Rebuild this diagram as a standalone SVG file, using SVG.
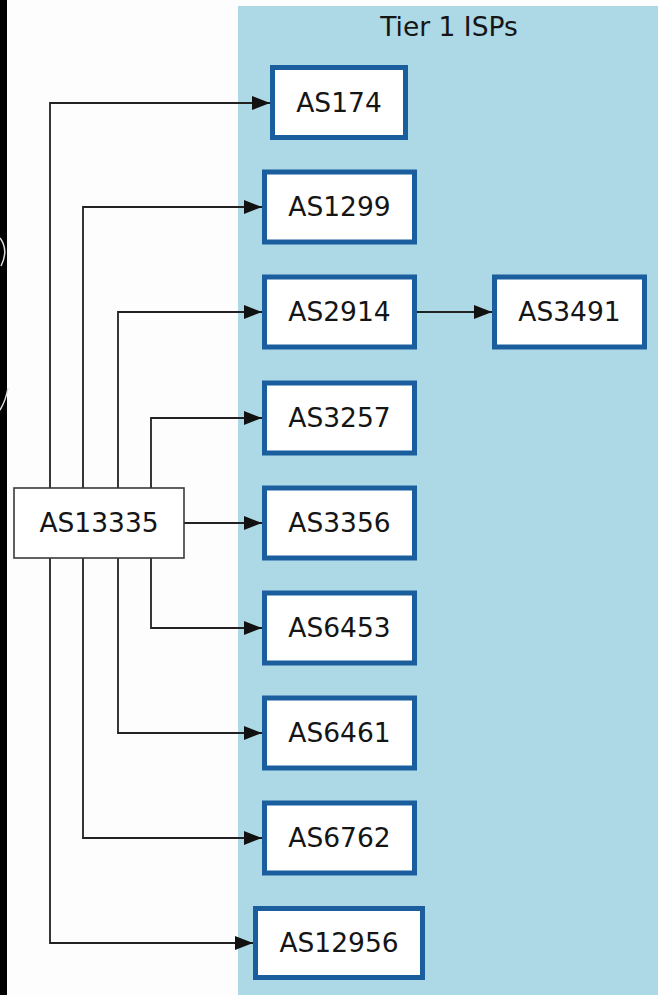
<svg xmlns="http://www.w3.org/2000/svg" width="658" height="995" viewBox="0 0 658 995">
  <style>
    .lbl { font-family: "DejaVu Sans", "Liberation Sans", sans-serif; font-size: 26.5px; fill: #151515; text-anchor: middle; }
    .tier { fill: #ffffff; stroke: #1a5e9e; stroke-width: 5; }
    .src { fill: #ffffff; stroke: #3a3a3a; stroke-width: 1.6; }
    .edge { fill: none; stroke: #222222; stroke-width: 1.8; }
  </style>
  <defs>
    <marker id="arrow" markerWidth="19" markerHeight="16" refX="18" refY="8" orient="auto" markerUnits="userSpaceOnUse">
      <path d="M0,1 L18,8 L0,15 Z" fill="#111111"/>
    </marker>
  </defs>
  <rect x="0" y="0" width="658" height="995" fill="#fdfdfd"/>
  <rect x="0" y="0" width="7" height="995" fill="#000000"/>
  <path d="M0,238 Q9,250 1,266" fill="none" stroke="#dddddd" stroke-width="1.5"/>
  <path d="M0,410 Q6,400 8,388" fill="none" stroke="#dddddd" stroke-width="1.5"/>

  <g id="cluster_tier1">
    <rect x="238" y="6" width="420" height="989" fill="#add8e6"/>
    <text class="lbl" x="449" y="36">Tier 1 ISPs</text>
  </g>

  <g id="edges">
    <polyline class="edge" points="50,488 50,103 270,103" marker-end="url(#arrow)"/>
    <polyline class="edge" points="83,488 83,207 262,207" marker-end="url(#arrow)"/>
    <polyline class="edge" points="118,488 118,312 262,312" marker-end="url(#arrow)"/>
    <polyline class="edge" points="151,488 151,418 262,418" marker-end="url(#arrow)"/>
    <polyline class="edge" points="184,523 262,523" marker-end="url(#arrow)"/>
    <polyline class="edge" points="151,558 151,628 262,628" marker-end="url(#arrow)"/>
    <polyline class="edge" points="118,558 118,733 262,733" marker-end="url(#arrow)"/>
    <polyline class="edge" points="83,558 83,838 262,838" marker-end="url(#arrow)"/>
    <polyline class="edge" points="50,558 50,943 253,943" marker-end="url(#arrow)"/>
    <polyline class="edge" points="417,312 492,312" marker-end="url(#arrow)"/>
  </g>

  <g id="AS13335">
    <rect class="src" x="14" y="488" width="170" height="70"/>
    <text class="lbl" x="99" y="532">AS13335</text>
  </g>
  <g id="AS174">
    <rect class="tier" x="272.5" y="67.5" width="133" height="70"/>
    <text class="lbl" x="339" y="112">AS174</text>
  </g>
  <g id="AS1299">
    <rect class="tier" x="264.5" y="172" width="150" height="70"/>
    <text class="lbl" x="339.5" y="216">AS1299</text>
  </g>
  <g id="AS2914">
    <rect class="tier" x="264.5" y="277" width="150" height="70"/>
    <text class="lbl" x="339.5" y="321">AS2914</text>
  </g>
  <g id="AS3491">
    <rect class="tier" x="494.5" y="277" width="150" height="70"/>
    <text class="lbl" x="569.5" y="321">AS3491</text>
  </g>
  <g id="AS3257">
    <rect class="tier" x="264.5" y="383" width="150" height="70"/>
    <text class="lbl" x="339.5" y="427">AS3257</text>
  </g>
  <g id="AS3356">
    <rect class="tier" x="264.5" y="488" width="150" height="70"/>
    <text class="lbl" x="339.5" y="532">AS3356</text>
  </g>
  <g id="AS6453">
    <rect class="tier" x="264.5" y="593" width="150" height="70"/>
    <text class="lbl" x="339.5" y="637">AS6453</text>
  </g>
  <g id="AS6461">
    <rect class="tier" x="264.5" y="698" width="150" height="70"/>
    <text class="lbl" x="339.5" y="742">AS6461</text>
  </g>
  <g id="AS6762">
    <rect class="tier" x="264.5" y="803" width="150" height="70"/>
    <text class="lbl" x="339.5" y="847">AS6762</text>
  </g>
  <g id="AS12956">
    <rect class="tier" x="255.5" y="908.5" width="167" height="69"/>
    <text class="lbl" x="339" y="952">AS12956</text>
  </g>
</svg>
